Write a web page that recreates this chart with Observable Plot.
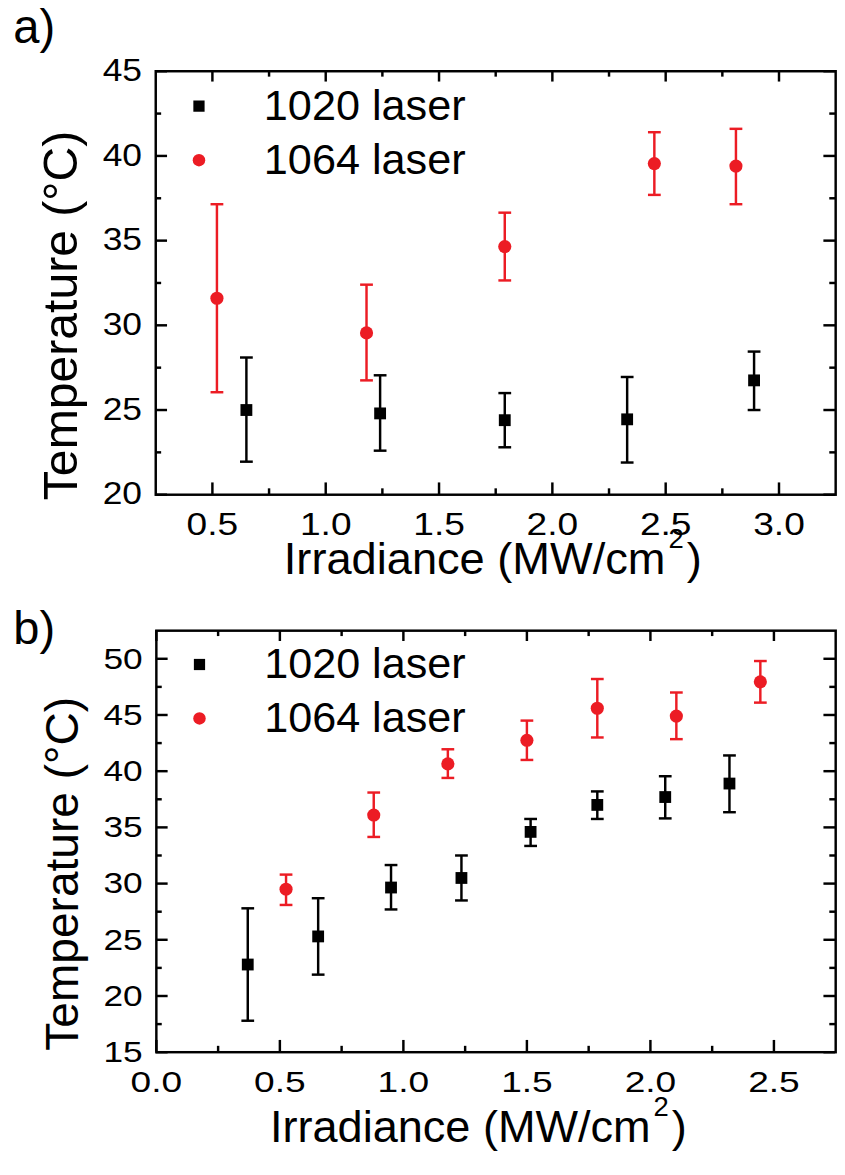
<!DOCTYPE html>
<html><head><meta charset="utf-8">
<script src="https://cdn.jsdelivr.net/npm/d3@7"></script>
<script src="https://cdn.jsdelivr.net/npm/@observablehq/plot@0.6"></script>
<style>
html,body{margin:0;padding:0;background:#fff;overflow:hidden;width:845px;height:1175px}
#chart svg{display:block}
</style></head><body><div id="chart"></div>
<script>
// ---- series metadata ----
const seriesNames = ["1020 laser", "1064 laser"];
const seriesColors = ["#000000", "#ec1c24"];
const seriesSymbols = ["square", "circle"];
const seriesRadius = [6.8, 6.7];

// ---- panel a) data ----
const a1020X  = [0.65, 1.24, 1.79, 2.33, 2.89];
const a1020Y  = [25.0, 24.8, 24.4, 24.45, 26.75];
const a1020Lo = [21.95, 22.6, 22.8, 21.9, 25.0];
const a1020Hi = [28.1, 27.05, 26.0, 26.95, 28.45];

const a1064X  = [0.52, 1.18, 1.79, 2.45, 2.81];
const a1064Y  = [31.6, 29.55, 34.65, 39.55, 39.4];
const a1064Lo = [26.05, 26.75, 32.65, 37.7, 37.15];
const a1064Hi = [37.15, 32.4, 36.65, 41.4, 41.6];

// ---- panel b) data ----
const b1020X  = [0.37, 0.655, 0.95, 1.235, 1.515, 1.785, 2.06, 2.32];
const b1020Y  = [22.8, 25.3, 29.65, 30.5, 34.6, 37.0, 37.7, 38.9];
const b1020Lo = [17.8, 21.9, 27.7, 28.5, 33.35, 35.75, 35.8, 36.35];
const b1020Hi = [27.8, 28.7, 31.65, 32.5, 35.75, 38.2, 39.55, 41.4];

const b1064X  = [0.525, 0.88, 1.18, 1.5, 1.785, 2.105, 2.445];
const b1064Y  = [29.5, 36.1, 40.65, 42.75, 45.6, 44.9, 47.95];
const b1064Lo = [28.1, 34.15, 39.4, 41.0, 43.0, 42.85, 46.1];
const b1064Hi = [30.8, 38.1, 41.95, 44.5, 48.2, 47.0, 49.8];

// ---- axes ----
const aXDomain = [0.25, 3.25];
const aYDomain = [20, 45];
const aXMajor = [0.5, 1.0, 1.5, 2.0, 2.5, 3.0];
const aXMinor = [0.75, 1.25, 1.75, 2.25, 2.75];
const aYMajor = [20, 25, 30, 35, 40, 45];
const aYMinor = [22.5, 27.5, 32.5, 37.5, 42.5];

const bXDomain = [0, 2.75];
const bYDomain = [15, 52.5];
const bXMajor = [0.0, 0.5, 1.0, 1.5, 2.0, 2.5];
const bXMinor = [0.25, 0.75, 1.25, 1.75, 2.25];
const bYMajor = [15, 20, 25, 30, 35, 40, 45, 50];
const bYMinor = [17.5, 22.5, 27.5, 32.5, 37.5, 42.5, 47.5];

const xLabel = "Irradiance (MW/cm²)";
const yLabel = "Temperature (°C)";

function table(x, y, lo, hi) {
  return x.map((v, i) => ({x: v, y: y[i], lo: lo[i], hi: hi[i]}));
}

const capSymbol = {
  draw(ctx, size) { const w = Math.sqrt(size / Math.PI); ctx.moveTo(-w, 0); ctx.lineTo(w, 0); }
};

const FONT = "'Liberation Sans', Arial, Helvetica, sans-serif";
const TICK_FS = 31;

function panel(o) {
  const W = o.width - o.marginLeft - o.marginRight;
  const H = o.height - o.marginTop - o.marginBottom;
  const ink = {stroke: "#000", strokeWidth: 2.5};
  const marks = [];
  // inward ticks on all four sides
  marks.push(Plot.tickX(o.xMajor, {x: d => d, insetTop: H - 12, ...ink}));
  marks.push(Plot.tickX(o.xMajor, {x: d => d, insetBottom: H - 11, ...ink}));
  marks.push(Plot.tickX(o.xMinor, {x: d => d, insetTop: H - 6, ...ink}));
  marks.push(Plot.tickX(o.xMinor, {x: d => d, insetBottom: H - 6, ...ink}));
  marks.push(Plot.tickY(o.yMajor, {y: d => d, insetRight: W - 12, ...ink}));
  marks.push(Plot.tickY(o.yMajor, {y: d => d, insetLeft: W - 12, ...ink}));
  marks.push(Plot.tickY(o.yMinor, {y: d => d, insetRight: W - 6, ...ink}));
  marks.push(Plot.tickY(o.yMinor, {y: d => d, insetLeft: W - 6, ...ink}));
  marks.push(Plot.axisX({ticks: o.xMajor, tickSize: 0, tickPadding: o.xTickPad, tickFormat: d3.format(".1f"), fontSize: TICK_FS, label: null}));
  marks.push(Plot.axisY({ticks: o.yMajor, tickSize: 0, tickPadding: 14, tickFormat: d3.format("d"), fontSize: TICK_FS, label: null}));
  marks.push(Plot.frame(ink));
  // axis titles
  marks.push(Plot.text([yLabel], {text: d => d, frameAnchor: "left", dx: -80, dy: 33, rotate: -90, lineAnchor: "bottom", textAnchor: "middle", fontSize: o.yLabelSize, fill: "#000"}));
  marks.push(Plot.text([xLabel], {text: d => d, frameAnchor: "bottom", dx: o.xLabelDx, dy: o.xLabelDy, lineAnchor: "bottom", textAnchor: "middle", fontSize: 46, fill: "#000"}));
  // panel letter
  marks.push(Plot.text([o.letter], {text: d => d, frameAnchor: "top-left", dx: 13 - o.marginLeft, dy: o.letterBaseline - o.marginTop, lineAnchor: "bottom", textAnchor: "start", fontSize: 48, fill: "#000"}));
  // data
  o.series.forEach((data, i) => {
    const c = seriesColors[i];
    marks.push(Plot.ruleX(data, {x: "x", y1: "lo", y2: "hi", stroke: c, strokeWidth: 2.5}));
    marks.push(Plot.dot(data, {x: "x", y: "hi", symbol: capSymbol, r: 6.5, stroke: c, strokeWidth: 2.5, fill: "none"}));
    marks.push(Plot.dot(data, {x: "x", y: "lo", symbol: capSymbol, r: 6.5, stroke: c, strokeWidth: 2.5, fill: "none"}));
    marks.push(Plot.dot(data, {x: "x", y: "y", symbol: seriesSymbols[i], r: seriesRadius[i], fill: c, stroke: "none"}));
  });
  // legend
  seriesNames.forEach((name, i) => {
    marks.push(Plot.dot([name], {frameAnchor: "top-left", dx: 44, dy: o.legendTop + 55 * i, symbol: seriesSymbols[i], r: seriesRadius[i] * 0.95, fill: seriesColors[i], stroke: "none"}));
    marks.push(Plot.text([name], {text: d => d, frameAnchor: "top-left", dx: 110, dy: o.legendTop + 14.2 + 55 * i, lineAnchor: "bottom", textAnchor: "start", fontSize: 44, fill: "#000"}));
  });
  const svg = Plot.plot({
    width: o.width, height: o.height,
    marginLeft: o.marginLeft, marginRight: o.marginRight, marginTop: o.marginTop, marginBottom: o.marginBottom,
    x: {domain: o.xDomain},
    y: {domain: o.yDomain},
    style: {fontFamily: FONT, color: "#000", background: "#fff", overflow: "visible"},
    marks
  });
  // superscript in the x title
  svg.querySelectorAll("text").forEach(t => {
    if (t.textContent === xLabel) {
      const [pre, post] = xLabel.split("²");
      const s = d3.select(t);
      s.text(null);
      s.append("tspan").text(pre);
      s.append("tspan").attr("dx", 3).attr("dy", -27).attr("font-size", 28).text("2");
      s.append("tspan").attr("dx", 3).attr("dy", 27).text(post);
    }
  });
  return svg;
}

// tick labels: stretch glyphs horizontally in place (wider face in the reference)
function widen(svg, sel, k) {
  svg.querySelectorAll(sel).forEach(t => {
    const len = t.getComputedTextLength();
    if (len > 0) {
      t.setAttribute("textLength", (len * k).toFixed(1));
      t.setAttribute("lengthAdjust", "spacingAndGlyphs");
    }
  });
}

const chart = document.getElementById("chart");
const svgA = panel({
  width: 860, height: 600, marginLeft: 158, marginRight: 10, marginTop: 72, marginBottom: 97,
  xDomain: aXDomain, yDomain: aYDomain, xMajor: aXMajor, xMinor: aXMinor, yMajor: aYMajor, yMinor: aYMinor,
  xTickPad: 19, xLabelDx: -3, xLabelDy: 81, yLabelSize: 49, letter: "a)", letterBaseline: 43, legendTop: 35.5,
  series: [table(a1020X, a1020Y, a1020Lo, a1020Hi), table(a1064X, a1064Y, a1064Lo, a1064Hi)]
});
const svgB = panel({
  width: 862, height: 575, marginLeft: 159, marginRight: 10, marginTop: 41, marginBottom: 104,
  xDomain: bXDomain, yDomain: bYDomain, xMajor: bXMajor, xMinor: bXMinor, yMajor: bYMajor, yMinor: bYMinor,
  xTickPad: 19, xLabelDx: -18, xLabelDy: 92, yLabelSize: 47, letter: "b)", letterBaseline: 55, legendTop: 34.5,
  series: [table(b1020X, b1020Y, b1020Lo, b1020Hi), table(b1064X, b1064Y, b1064Lo, b1064Hi)]
});
chart.append(svgA);
chart.append(svgB);
for (const s of [svgA, svgB]) {
  widen(s, 'g[aria-label="x-axis tick label"] text', 1.22);
  widen(s, 'g[aria-label="y-axis tick label"] text', 1.16);
}
</script></body></html>
